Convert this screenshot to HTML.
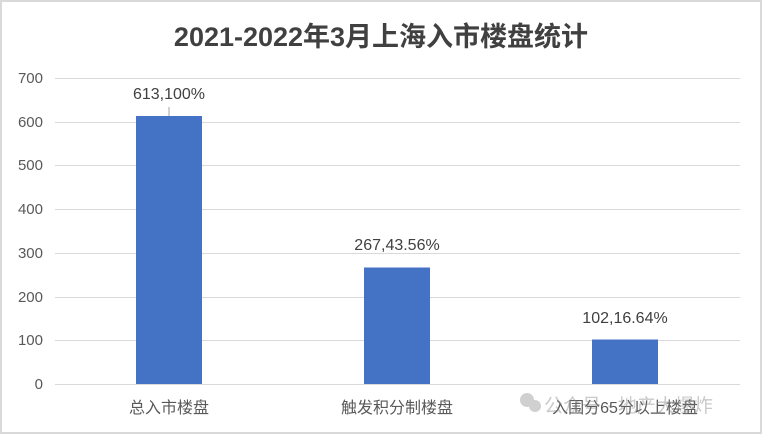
<!DOCTYPE html>
<html><head><meta charset="utf-8"><style>
body{margin:0;background:#fff}
svg{display:block}
text{font-family:"Liberation Sans","Noto Sans CJK SC",sans-serif}
</style></head><body>
<svg width="762" height="434" viewBox="0 0 762 434" xmlns="http://www.w3.org/2000/svg">
<rect x="1" y="1" width="760" height="432" fill="#fff" stroke="#d9d9d9" stroke-width="2"/>
<text x="381" y="46" text-anchor="middle" font-size="27" font-weight="bold" fill="#404040">2021-2022年3月上海入市楼盘统计</text>
<g stroke="#d9d9d9" stroke-width="1">
<line x1="55" x2="740" y1="78.5" y2="78.5"/>
<line x1="55" x2="740" y1="122.5" y2="122.5"/>
<line x1="55" x2="740" y1="165.5" y2="165.5"/>
<line x1="55" x2="740" y1="209.5" y2="209.5"/>
<line x1="55" x2="740" y1="253.5" y2="253.5"/>
<line x1="55" x2="740" y1="297.5" y2="297.5"/>
<line x1="55" x2="740" y1="340.5" y2="340.5"/>
<line x1="55" x2="740" y1="384.5" y2="384.5"/>
</g>
<g font-size="15" fill="#595959" text-anchor="end">
<text x="43" y="83">700</text><text x="43" y="127">600</text><text x="43" y="170">500</text>
<text x="43" y="214">400</text><text x="43" y="258">300</text><text x="43" y="302">200</text>
<text x="43" y="345">100</text><text x="43" y="389">0</text>
</g>
<g fill="#4472c4">
<rect x="136" y="116" width="66" height="268"/>
<rect x="364" y="267.5" width="66" height="116.5"/>
<rect x="592" y="339.5" width="66" height="44.5"/>
</g>
<line x1="169" x2="169" y1="107" y2="116" stroke="#a6a6a6" stroke-width="1"/>
<g font-size="16" fill="#404040" text-anchor="middle">
<text x="169" y="99">613,100%</text>
<text x="397" y="250">267,43.56%</text>
<text x="625" y="323">102,16.64%</text>
</g>
<g font-size="16" fill="#595959" text-anchor="middle">
<text x="169" y="413">总入市楼盘</text>
<text x="397" y="413">触发积分制楼盘</text>
<text x="625" y="413">入围分65分以上楼盘</text>
</g>
<g opacity="0.45">
<circle cx="527" cy="400" r="7" fill="#999"/><circle cx="535" cy="406" r="6" fill="#999"/>
<text x="544" y="412" font-size="19" fill="#888">公众号 · 地产大爆炸</text>
</g>
</svg>
</body></html>
